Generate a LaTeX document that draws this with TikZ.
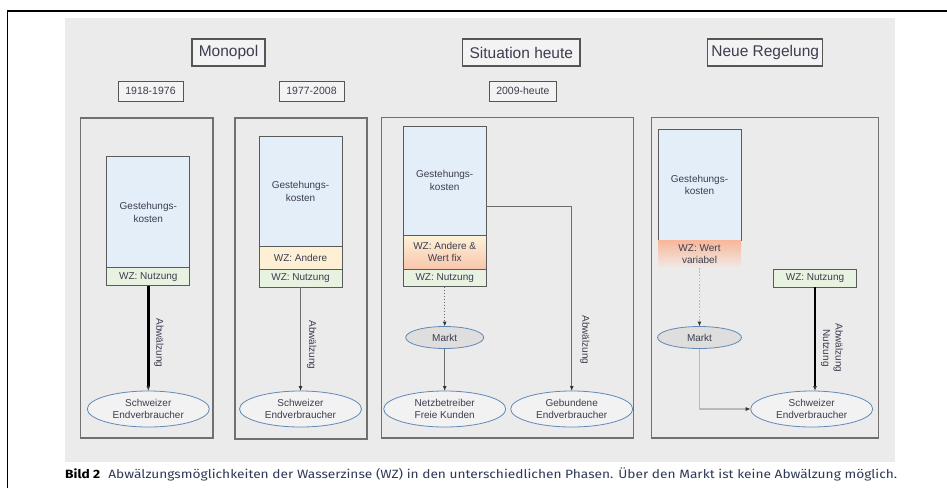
\documentclass[tikz,border=0pt]{standalone}
\usepackage{fontspec}
\setmainfont{Liberation Sans}
\newfontfamily\capfont{Fira Sans}
\usetikzlibrary{arrows.meta,calc,shapes.geometric}
\definecolor{bg}{HTML}{EBEBEB}
\definecolor{txt}{HTML}{3D3D50}
\definecolor{gkblue}{HTML}{E4EEF9}
\definecolor{wzgreen}{HTML}{E8F2E0}
\definecolor{wzpeach}{HTML}{FDF0D4}
\definecolor{fixtop}{HTML}{FDF2D8}
\definecolor{fixbot}{HTML}{F8C6AD}
\definecolor{vartop}{HTML}{F7B89A}
\definecolor{varbot}{HTML}{F0EAE7}
\definecolor{ellfill}{HTML}{F2F2F2}
\definecolor{marktfill}{HTML}{DEDEDE}
\definecolor{ellblue}{HTML}{6089B6}
\definecolor{panelgray}{HTML}{707070}
\definecolor{boxline}{HTML}{5A5A5A}
\definecolor{titleline}{HTML}{555555}
\definecolor{captxt}{HTML}{2E3A58}
\newlength\capw
\newcommand\captiontext{{\color{black}\textbf{Bild 2}}\hspace{0.6em}Abwälzungsmöglichkeiten der Wasserzinse (WZ) in den unterschiedlichen Phasen. Über den Markt ist keine Abwälzung möglich.}
\newcommand\fitcaption{\capfont\fontsize{12}{14}\selectfont\settowidth\capw{\captiontext}\scalebox{\fpeval{832/(\the\capw)}}[1]{\captiontext}}
\begin{document}
\begin{tikzpicture}[x=1pt,y=-1pt,
  font=\fontsize{10}{12.5}\selectfont,
  every node/.style={text=txt},
  panel/.style={draw=panelgray, line width=1.2pt, inner sep=0pt, outer sep=0pt},
  titlebox/.style={draw=titleline, line width=1.2pt, fill=bg!60!white, inner sep=0pt, outer sep=0pt, minimum height=27pt, font=\fontsize{15.5}{18}\selectfont},
  yearbox/.style={draw=titleline, line width=1pt, fill=bg!60!white, inner sep=0pt, outer sep=0pt, minimum height=20pt, font=\fontsize{10.5}{12}\selectfont},
  gk/.style={draw=boxline, fill=gkblue, line width=0.9pt, minimum width=83pt, inner sep=0pt, outer sep=0pt, align=center},
  wz/.style={draw=boxline, line width=0.9pt, minimum width=83pt, inner sep=0pt, outer sep=0pt, align=center},
  ell/.style={ellipse, draw=ellblue, fill=ellfill, line width=0.8pt, minimum width=122pt, minimum height=36pt, inner sep=0pt, outer sep=0pt, align=center},
  markt/.style={ellipse, draw=ellblue, fill=marktfill, line width=0.8pt, minimum height=22pt, inner sep=0pt, outer sep=0pt},
  lbl/.style={rotate=-90, align=center, inner sep=0pt},
  tip/.style={-{Latex[length=5pt,width=4pt,color=black!80]}},
  thickarr/.style={tip, line width=2.6pt, black},
  thinarr/.style={tip, line width=0.9pt, draw=gray!85!black},
]
\useasboundingbox (0,0) rectangle (947,488);
\fill[white] (0,0) rectangle (947,488);
\fill[bg] (65,18) rectangle (895,462);
\draw[line width=1.8pt, black] (7.5,488) -- (7.5,11) -- (947,11);

% titles
\node[titlebox, minimum width=73pt] (t1) at (228.5,52.5) {Monopol};
\node[titlebox, minimum width=117.3pt] (t2) at (521.35,52.5) {Situation heute};
\node[titlebox, minimum width=115pt] (t3) at (765.2,52.5) {Neue Regelung};
\node[yearbox, minimum width=65pt] (y1) at (150.5,91) {1918-1976};
\node[yearbox, minimum width=65pt] (y2) at (311.5,91) {1977-2008};
\node[yearbox, minimum width=67.7pt] (y3) at (522.85,91) {2009-heute};

% panels
\node[panel, minimum width=132.3pt, minimum height=320pt] (p1) at (146.85,278) {};
\node[panel, minimum width=132pt, minimum height=321pt] (p2) at (301,278.5) {};
\node[panel, minimum width=251.6pt, minimum height=320.3pt] (p3) at (507.5,277.85) {};
\node[panel, minimum width=226.6pt, minimum height=320.3pt] (p4) at (765,277.85) {};

% panel 1
\node[gk, minimum height=111pt] (gk1) at (148.3,212.2) {Gestehungs-\\kosten};
\node[wz, fill=wzgreen, minimum height=18pt] (wzn1) at (148.3,276.7) {WZ: Nutzung};
\node[ell] (e1) at (148.3,409) {Schweizer\\Endverbraucher};
\draw[thickarr] (wzn1.south) -- (e1.north);
\node[lbl] (l1) at (159,343) {Abwälzung};

% panel 2
\node[gk, minimum height=110.7pt] (gk2) at (300.5,191.3) {Gestehungs-\\kosten};
\node[wz, fill=wzpeach, minimum height=22.3pt] (wza2) at (300.5,257.8) {WZ: Andere};
\node[wz, fill=wzgreen, minimum height=18pt] (wzn2) at (300.5,278) {WZ: Nutzung};
\node[ell] (e2) at (300.5,409) {Schweizer\\Endverbraucher};
\draw[thinarr] (wzn2.south) -- (e2.north);
\node[lbl] (l2) at (311.7,345) {Abwälzung};

% panel 3
\node[gk, minimum height=109pt] (gk3) at (444.7,180.5) {Gestehungs-\\kosten};
\node[wz, top color=fixtop, bottom color=fixbot, minimum height=34pt] (wza3) at (444.7,252) {WZ: Andere \&\\Wert fix};
\node[wz, fill=wzgreen, minimum height=17.7pt] (wzn3) at (444.7,277.8) {WZ: Nutzung};
\node[markt, minimum width=78pt] (m3) at (444.7,337.5) {Markt};
\node[ell] (e3a) at (444.7,409) {Netzbetreiber\\Freie Kunden};
\node[ell] (e3b) at (571.7,409) {Gebundene\\Endverbraucher};
\draw[tip, line width=1pt, draw=gray!80!black, dash pattern=on 1.6pt off 1.4pt] (wzn3.south) -- (m3.north);
\draw[thinarr] (m3.south) -- (e3a.north);
\draw[thinarr] ([yshift=-25.5pt]gk3.east) -| (e3b.north);
\node[lbl] (l3) at (585,340) {Abwälzung};

% panel 4
\node[gk, minimum height=111.7pt] (gk4) at (699.5,184.8) {Gestehungs-\\kosten};
\node[inner sep=0pt, outer sep=0pt, minimum width=83pt, minimum height=27.3pt, align=center,
      top color=vartop, bottom color=varbot] (wzv) at (699.5,254.3) {WZ: Wert\\variabel};
\node[wz, fill=wzgreen, minimum height=18.3pt] (wzn4) at (815,278.2) {WZ: Nutzung};
\node[markt, minimum width=84pt] (m4) at (699.5,337.5) {Markt};
\node[ell] (e4) at (811.7,409) {Schweizer\\Endverbraucher};
\draw[tip, line width=1.5pt, draw=gray!55, dash pattern=on 1.6pt off 1.6pt] (wzv.south) -- (m4.north);
\draw[tip, line width=1.4pt, draw=gray!55] (m4.south) |- (e4.west);
\draw[thickarr] (wzn4.south) -- (e4.north -| wzn4.south);
\node[lbl] (l4) at (832,348) {Abwälzung\\Nutzung};

% caption
\node[anchor=west, inner sep=0pt, text=captxt] (cap) at (65,474.5) {\fitcaption};
\end{tikzpicture}
\end{document}
